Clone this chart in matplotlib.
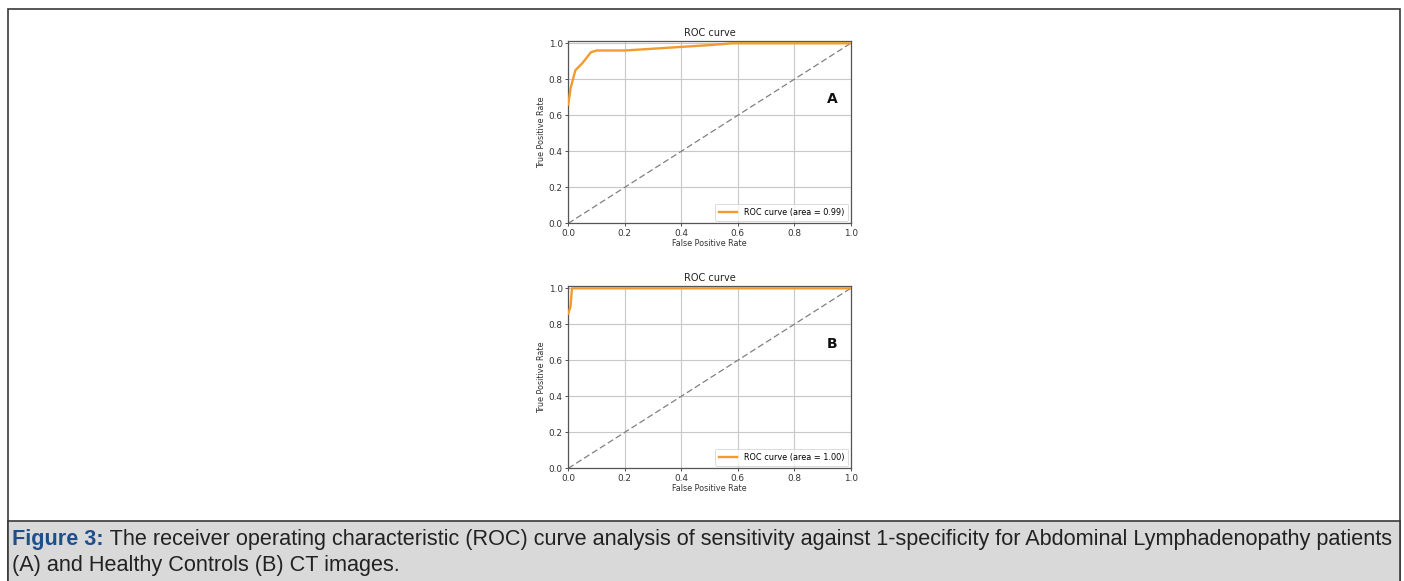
import matplotlib
matplotlib.use("Agg")
import matplotlib.pyplot as plt
from matplotlib.patches import Rectangle

# Data
fpr_a = [0.0, 0.008, 0.025, 0.05, 0.08, 0.10, 0.20, 0.30, 0.40, 0.50, 0.58, 1.0]
tpr_a = [0.66, 0.75, 0.85, 0.89, 0.95, 0.96, 0.96, 0.97, 0.98, 0.99, 1.0, 1.0]
fpr_b = [0.0, 0.008, 0.013, 1.0]
tpr_b = [0.86, 0.90, 1.0, 1.0]
labels = ["ROC curve (area = 0.99)", "ROC curve (area = 1.00)"]
panel_letters = ["A", "B"]
ticks = [0.0, 0.2, 0.4, 0.6, 0.8, 1.0]
tick_labels = ["0.0", "0.2", "0.4", "0.6", "0.8", "1.0"]
caption_bold = "Figure 3:"
caption_line1 = " The receiver operating characteristic (ROC) curve analysis of sensitivity against 1-specificity for Abdominal Lymphadenopathy patients"
caption_line2 = "(A) and Healthy Controls (B) CT images."

W, H = 1404, 581
fig = plt.figure(figsize=(W / 100, H / 100), dpi=100)
fig.patch.set_facecolor("white")

# Outer border and caption box
fig.add_artist(Rectangle((8 / W, -0.01), (1400 - 8) / W, (H - 9) / H + 0.01, transform=fig.transFigure,
                         facecolor="none", edgecolor="#3a3a3a", lw=1.2, zorder=0))
fig.add_artist(Rectangle((8 / W, -0.01), (1400 - 8) / W, (H - 521) / H + 0.01, transform=fig.transFigure,
                         facecolor="#d9d9d9", edgecolor="#3a3a3a", lw=1.2, zorder=0))

def px_axes(x0, x1, ytop, ybot):
    return fig.add_axes([x0 / W, 1 - ybot / H, (x1 - x0) / W, (ybot - ytop) / H])

curves = [(fpr_a, tpr_a), (fpr_b, tpr_b)]
ylims = [(223.3, 43.3), (468.3, 288.3)]
orange = "#f39a2e"
for i, ((fx, ty), (y0px, y1px)) in enumerate(zip(curves, ylims)):
    ymax = 1.015
    span = (y0px - y1px)
    ytop = y0px - span * ymax
    ax = px_axes(568.3, 850.7, ytop, y0px)
    ax.plot(fx, ty, color=orange, lw=1.7, label=labels[i], zorder=3)
    ax.plot([0, 1], [0, 1], color="#808080", lw=0.9, ls=(0, (5, 2.5)), zorder=2)
    ax.set_xlim(0, 1)
    ax.set_ylim(0, ymax)
    ax.set_xticks(ticks)
    ax.set_xticklabels(tick_labels)
    ax.set_yticks(ticks)
    ax.set_yticklabels(tick_labels)
    ax.grid(True, color="#c8c8c8", lw=0.8)
    ax.tick_params(labelsize=6.4, length=2.5, width=0.6, pad=1.5, colors="#333333")
    for s in ax.spines.values():
        s.set_color("#555555")
        s.set_linewidth(0.9)
    ax.set_title("ROC curve", fontsize=7, pad=3, color="#222222")
    ax.set_xlabel("False Positive Rate", fontsize=5.8, labelpad=1, color="#333333")
    ax.set_ylabel("True Positive Rate", fontsize=5.8, labelpad=2, color="#333333")
    ax.text(0.935, 0.69, panel_letters[i], fontsize=10, fontweight="bold",
            ha="center", va="center", color="#111111")
    leg = ax.legend(loc="lower right", fontsize=5.9, frameon=True, fancybox=True,
                    borderpad=0.5, handlelength=2.2, borderaxespad=0.3)
    leg.get_frame().set_linewidth(0.6)

# Caption
fig.canvas.draw()
r = fig.canvas.get_renderer()
fs = 15.6
t1 = fig.text(12 / W, 1 - 540 / H, caption_bold, fontsize=fs, fontweight="bold",
              color="#1f4f8b", family="Liberation Sans", va="center", ha="left")
bb = t1.get_window_extent(renderer=r)
fig.text(bb.x1 / W, 1 - 540 / H, caption_line1, fontsize=fs, color="#222222",
         family="Liberation Sans", va="center", ha="left")
fig.text(12 / W, 1 - 565 / H, caption_line2, fontsize=fs, color="#222222",
         family="Liberation Sans", va="center", ha="left")

fig.savefig("out.png", dpi=100, facecolor="white")
